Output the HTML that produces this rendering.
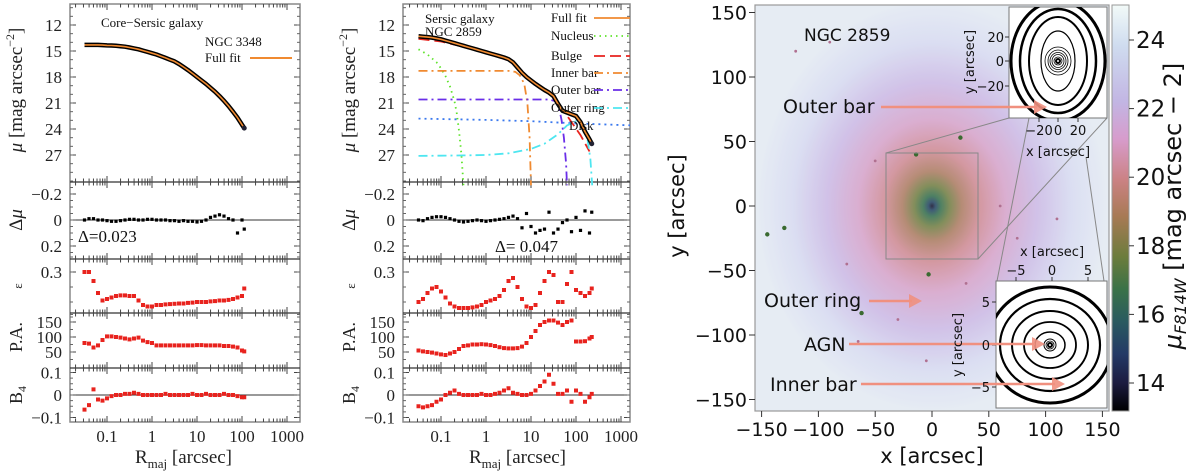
<!DOCTYPE html>
<html><head><meta charset="utf-8">
<style>
html,body{margin:0;padding:0;background:#fff;}
svg{display:block;}
.ser{font-family:"Liberation Serif",serif;}
.san{font-family:"DejaVu Sans","Liberation Sans",sans-serif;}
</style></head>
<body>
<svg id="fig" width="1200" height="472" viewBox="0 0 1200 472" xmlns="http://www.w3.org/2000/svg">
<defs>
  <radialGradient id="gal" cx="0.5" cy="0.5" r="0.5">
    <stop offset="0" stop-color="#0c0c28"/>
    <stop offset="0.02" stop-color="#1d3f5e"/>
    <stop offset="0.05" stop-color="#2f6a48"/>
    <stop offset="0.1" stop-color="#6c7a3e"/>
    <stop offset="0.17" stop-color="#a9785e"/>
    <stop offset="0.27" stop-color="#cc8690"/>
    <stop offset="0.42" stop-color="#d4a0c8"/>
    <stop offset="0.6" stop-color="#c9b7e4"/>
    <stop offset="0.8" stop-color="#d5d9f0"/>
    <stop offset="1" stop-color="#e2e9f2"/>
  </radialGradient>
  <linearGradient id="cbar" x1="0" y1="0" x2="0" y2="1">
    <stop offset="0" stop-color="#f2faf8"/>
    <stop offset="0.1" stop-color="#cfdcef"/>
    <stop offset="0.24" stop-color="#c2b5e3"/>
    <stop offset="0.33" stop-color="#d79ccc"/>
    <stop offset="0.43" stop-color="#cb8284"/>
    <stop offset="0.52" stop-color="#a87a55"/>
    <stop offset="0.62" stop-color="#6c7c3c"/>
    <stop offset="0.7" stop-color="#3a7248"/>
    <stop offset="0.78" stop-color="#2a5a60"/>
    <stop offset="0.86" stop-color="#243a66"/>
    <stop offset="0.93" stop-color="#1c1c40"/>
    <stop offset="1" stop-color="#000"/>
  </linearGradient>
  <filter id="noise" x="0" y="0" width="1" height="1">
    <feTurbulence type="fractalNoise" baseFrequency="0.9" numOctaves="1" result="n"/>
    <feColorMatrix type="matrix" values="0 0 0 0 1  0 0 0 0 1  0 0 0 0 1  0 0 0 0.5 -0.15" in="n" result="w"/>
    <feComposite in="w" in2="SourceGraphic" operator="atop"/>
  </filter>
  <clipPath id="c1"><rect x="70" y="4" width="230" height="418"/></clipPath>
  <clipPath id="c2"><rect x="403" y="4" width="227" height="418"/></clipPath>
  <clipPath id="cimg"><rect x="755" y="5" width="354" height="406"/></clipPath>
</defs>
<g id="root"></g>
</svg>
<script>
// ---------------- data: NGC 3348 (left panel) ----------------
const L_logR = [-1.5,-1.4,-1.3,-1.2,-1.1,-1.0,-0.9,-0.8,-0.7,-0.6,-0.5,-0.4,-0.3,-0.2,-0.1,0,0.1,0.2,0.3,0.4,0.5,0.6,0.7,0.8,0.9,1.0,1.1,1.2,1.3,1.4,1.5,1.6,1.7,1.8,1.9,2.0,2.05];
const L_mu = [14.3,14.3,14.3,14.3,14.32,14.35,14.37,14.4,14.45,14.5,14.6,14.7,14.8,14.95,15.1,15.25,15.4,15.6,15.8,16.0,16.2,16.5,16.85,17.2,17.6,18.0,18.4,18.8,19.25,19.7,20.2,20.75,21.35,22.0,22.7,23.5,23.9];
const L_dmu = [0,-0.01,-0.01,0,0,0.005,0.01,0.01,0.005,0,-0.005,-0.005,0,0,-0.005,-0.005,0,0,0,0.005,0.005,0.01,0.005,0.01,0.01,0.015,0.01,0,-0.02,-0.03,-0.04,-0.03,-0.01,0.0,0.1,0.0,0.07];
const L_eps = [0.30,0.30,0.27,0.23,0.205,0.21,0.215,0.22,0.222,0.222,0.22,0.22,0.205,0.19,0.185,0.185,0.19,0.19,0.192,0.193,0.194,0.195,0.195,0.197,0.198,0.2,0.2,0.2,0.202,0.203,0.205,0.205,0.207,0.21,0.215,0.22,0.245];
const L_pa = [80,78,65,72,90,102,102,100,98,95,92,95,98,88,83,80,72,72,72,72,72,72,72,72,72,73,73,72,72,72,72,70,70,68,65,55,52];
const L_b4 = [-0.065,-0.045,0.025,-0.02,-0.025,-0.015,-0.005,0,0,0.005,0.005,0.01,0.005,0,0,0,0,0,0.005,0,0,0,0,0,0.005,0,0,0.005,0,0,0,0.005,0,0,-0.005,-0.01,-0.01];

// ---------------- data: NGC 2859 (middle panel) ----------------
const M_logR = [-1.5,-1.4,-1.3,-1.2,-1.1,-1.0,-0.9,-0.8,-0.7,-0.6,-0.5,-0.4,-0.3,-0.2,-0.1,0,0.1,0.2,0.3,0.4,0.5,0.6,0.7,0.8,0.9,1.0,1.1,1.2,1.3,1.4,1.5,1.6,1.7,1.8,1.9,2.0,2.1,2.2,2.3,2.35];
const M_mu = [13.3,13.35,13.4,13.45,13.55,13.65,13.8,13.95,14.1,14.25,14.4,14.55,14.7,14.85,15.0,15.15,15.3,15.45,15.6,15.75,15.95,16.3,16.9,17.5,18.0,18.4,18.8,19.15,19.5,19.8,20.2,21.1,21.9,22.1,22.3,22.5,23.2,24.3,25.2,25.7];
const M_dmu = [0,0.005,-0.01,-0.02,-0.025,-0.025,-0.02,-0.01,0,0.01,0.015,0.01,0.005,0,0.005,0.01,0.005,0,-0.005,-0.01,-0.02,-0.03,-0.01,0.06,-0.05,0.05,0.1,0.08,0.07,-0.06,0.1,0.07,0.02,0,0.09,-0.02,0.08,-0.07,0.1,-0.06];
const M_eps = [0.2,0.21,0.23,0.245,0.25,0.235,0.215,0.195,0.185,0.18,0.18,0.18,0.182,0.185,0.19,0.2,0.205,0.21,0.22,0.24,0.27,0.28,0.25,0.21,0.185,0.18,0.19,0.23,0.27,0.3,0.29,0.2,0.2,0.26,0.3,0.24,0.23,0.22,0.23,0.245];
const M_pa = [55,52,50,48,45,42,40,45,50,60,70,72,75,75,76,75,73,70,66,63,62,62,63,68,80,100,120,140,150,155,155,148,140,150,155,85,85,86,95,100];
const M_b4 = [-0.05,-0.055,-0.05,-0.045,-0.03,-0.02,0,0.01,0.02,0.005,0,0,0,0,0.005,0,0,0.005,0.01,0.02,0.03,0.01,0.005,0,0,0.005,0.02,0.04,0.06,0.09,0.05,0.005,0.005,0.02,-0.03,0.02,0.005,-0.03,-0.01,0.005];

// model components (middle panel)
const nucR = [-1.5,-1.3,-1.1,-1.0,-0.9,-0.8,-0.7,-0.65,-0.6,-0.55,-0.5];
const nucMu = [14.8,15.4,16.3,17.0,17.9,19.1,20.8,22.2,24.2,26.8,30.5];
const bulR = [-1.5,-1.0,-0.5,0,0.5,0.7,1.0,1.3,1.5,1.7,1.9,2.1,2.3];
const bulMu = [13.6,13.9,14.5,15.2,16.1,16.9,18.6,19.5,20.3,21.7,23.2,24.7,26.6];
const ibarR = [-1.5,0.5,0.65,0.75,0.85,0.92,0.97,1.0];
const ibarMu = [17.3,17.3,17.4,17.8,18.8,21,25,30.5];
const obarR = [-1.5,1.4,1.55,1.62,1.68,1.73,1.78,1.8];
const obarMu = [20.6,20.6,20.8,21.5,23,25,28,30.5];
const diskR = [-1.5,0,1,2,3.3];
const diskMu = [22.8,22.95,23.1,23.35,23.6];
const ringR = [-1.5,-0.5,0,0.5,1.0,1.3,1.6,1.8,2.0,2.15,2.25,2.32,2.36];
const ringMu = [27.1,27.05,27.0,26.8,26.3,25.7,24.6,23.6,23.1,23.5,25,27.5,30.5];

// ticks
const muTicks = [12,15,18,21,24,27];
const dmuTicks = [-0.2,0,0.2];
const epsTicks = [0.3];
const paTicks = [50,100,150];
const b4Ticks = [-0.1,0,0.1];
const rTickVals = [0.1,1,10,100,1000];
const rTickLabels = ["0.1","1","10","100","1000"];
const imgXTicks = [-150,-100,-50,0,50,100,150];
const imgYTicks = [-150,-100,-50,0,50,100,150];
const cbTicks = [14,16,18,20,22,24];

// ---------------- helpers ----------------
const NS = "http://www.w3.org/2000/svg";
const root = document.getElementById('root');
function mk(tag, attrs, parent, text){
  const e = document.createElementNS(NS, tag);
  for (const k in attrs) e.setAttribute(k, attrs[k]);
  if (text !== undefined) e.textContent = text;
  (parent || root).appendChild(e);
  return e;
}
const fmt = v => (v<0 ? "\u2212"+String(-v) : String(v));

const yMu = v => 25 + (v-12)*8.667;
const yDmu = v => 220 + v*130;
const yEps = v => 272 - (v-0.3)*300;
const yPa = v => 352 - (v-50)*0.3;
const yB4 = v => 395 - v*225;
const bounds = [4,182,259,313,368,422];

function profilePanel(id, left, right, ox, clip, d){
  const g = mk('g', {}, root);
  
  
  const xs = lr => ox + 45*lr;
  const fr = mk('rect', {x:left,y:4,width:right-left,height:418,fill:'none',stroke:'#888','stroke-width':1.5}, g);
  
  
  for (let i=1;i<bounds.length-1;i++){
    const l = mk('line',{x1:left,x2:right,y1:bounds[i],y2:bounds[i],stroke:'#333','stroke-width':1.3},g);
    
    
  }
  [yDmu(0), yB4(0)].forEach(y=>{
    const l = mk('line',{x1:left,x2:right,y1:y,y2:y,stroke:'#333','stroke-width':1},g);
    
    
  });
  for (let dec=-2; dec<=3; dec++){
    for (let m=1;m<=9;m++){
      const lr = dec + Math.log10(m);
      const x = xs(lr);
      if (x<left+1 || x>right-1) continue;
      const len = m===1 ? 6 : 3.5;
      bounds.forEach((b,i)=>{
        const up = i>0, dn = i<bounds.length-1;
        const y1 = up ? b-len : b, y2 = dn ? b+len : b;
        mk('line',{x1:x,x2:x,y1:y1,y2:y2,stroke:'#444','stroke-width':1},g);
      });
    }
  }
  const ytick = (arr, f, minorStep, lo, hi) => {
    arr.forEach(v=>{
      const y=f(v);
      mk('line',{x1:left,x2:left+6,y1:y,y2:y,stroke:'#444'},g);
      mk('line',{x1:right-6,x2:right,y1:y,y2:y,stroke:'#444'},g);
      const t = mk('text',{x:left-8,y:y+6,'text-anchor':'end','font-size':17,class:'ser',fill:'#222'},g,fmt(v));
      
      
    });
    for (let v=lo; v<=hi+1e-9; v+=minorStep){
      const y=f(v);
      mk('line',{x1:left,x2:left+3,y1:y,y2:y,stroke:'#666'},g);
      mk('line',{x1:right-3,x2:right,y1:y,y2:y,stroke:'#666'},g);
    }
  };
  ytick(muTicks, yMu, 1, 10, 30);
  ytick(dmuTicks, yDmu, 0.05, -0.25, 0.25);
  ytick(epsTicks, yEps, 0.05, 0.15, 0.35);
  ytick(paTicks, yPa, 25, 25, 175);
  ytick(b4Ticks, yB4, 0.025, -0.1, 0.1);
  rTickVals.forEach((v,i)=>{
    const t = mk('text',{x:xs(Math.log10(v)),y:442,'text-anchor':'middle','font-size':17,class:'ser',fill:'#222'},g,rTickLabels[i]);
    
    
  });
  const xl = mk('text',{x:xs(0.7),y:463,'text-anchor':'middle','font-size':19,class:'ser',fill:'#222'},g);
  
  
  xl.innerHTML = 'R<tspan font-size="13" dy="5">maj</tspan><tspan dy="-5"> [arcsec]</tspan>';
  const lx = left-54;
  const ylabels = [
    [yMu(19.5), '<tspan font-style="italic">μ</tspan> [mag arcsec<tspan font-size="12" dy="-8">−2</tspan><tspan dy="8">]</tspan>', 'mu-axis-title', 19],
    [yDmu(0), 'Δ<tspan font-style="italic">μ</tspan>', 'delta-mu-axis-title', 19],
    [286, 'ε', 'ellipticity-axis-title', 13],
    [yPa(100), 'P.A.', 'pa-axis-title', 18],
    [yB4(0), 'B<tspan font-size="12" dy="4">4</tspan>', 'b4-axis-title', 18]
  ];
  ylabels.forEach(([y,html,name,fs])=>{
    const t = mk('text',{x:lx,y:y,'text-anchor':'middle','font-size':fs,class:'ser',fill:'#222',transform:`rotate(-90 ${lx} ${y}) translate(0 6)`},g);
    t.innerHTML = html;
    
    
  });
  const dg = mk('g',{'clip-path':`url(#${clip})`},g);
  const pts = (R,V,f)=>R.map((r,i)=>`${xs(r).toFixed(1)},${f(V[i]).toFixed(1)}`).join(' ');
  (d.comps||[]).forEach(c=>{
    const p = mk('polyline',{points:pts(c.R,c.V,yMu),fill:'none',stroke:c.col,'stroke-width':1.8,'stroke-dasharray':c.dash},dg);
    
    
  });
  const prof = mk('polyline',{points:pts(d.R,d.mu,yMu),fill:'none',stroke:'#000','stroke-width':4.5,'stroke-linejoin':'round'},dg);
  
  
  const fit = mk('polyline',{points:pts(d.R,d.mu,yMu),fill:'none',stroke:'#f08a30','stroke-width':1.6},dg);
  
  
  mk('circle',{cx:xs(d.R[d.R.length-1]),cy:yMu(d.mu[d.mu.length-1]),r:2.5,fill:'#223'},dg);
  const sq = (R,V,f,col,name,s)=>{
    const gg = mk('g',{},dg);
    
    
    R.forEach((r,i)=>{
      const m = mk('rect',{x:xs(r)-s/2,y:f(V[i])-s/2,width:s,height:s,fill:col},gg);
      
      
    });
  };
  sq(d.R, d.dmu, yDmu, '#000', 'residual-points', 3.2);
  sq(d.R, d.eps, yEps, '#e8231e', 'ellipticity-points', 4);
  sq(d.R, d.pa, yPa, '#e8231e', 'pa-points', 4);
  sq(d.R, d.b4, yB4, '#e8231e', 'b4-points', 4);
  return g;
}

profilePanel('core-sersic-panel', 70, 300, 152, 'c1', {R:L_logR,mu:L_mu,dmu:L_dmu,eps:L_eps,pa:L_pa,b4:L_b4});
profilePanel('sersic-panel', 403, 630, 486, 'c2', {R:M_logR,mu:M_mu,dmu:M_dmu,eps:M_eps,pa:M_pa,b4:M_b4,
  comps:[
    {R:nucR,V:nucMu,col:'#5ee32a',dash:'1.5 4',name:'nucleus-line'},
    {R:bulR,V:bulMu,col:'#e8231e',dash:'11 5',name:'bulge-line'},
    {R:ibarR,V:ibarMu,col:'#f08a30',dash:'9 4 2 4',name:'inner-bar-line'},
    {R:obarR,V:obarMu,col:'#6a2ee8',dash:'9 4 2 4',name:'outer-bar-line'},
    {R:diskR,V:diskMu,col:'#3a78ee',dash:'2 4',name:'disk-line'},
    {R:ringR,V:ringMu,col:'#4ee6f0',dash:'9 4 2 4',name:'outer-ring-line'}
  ]});

function txt(x,y,s,fs,cls,name,anchor){
  const t = mk('text',{x:x,y:y,'font-size':fs,class:cls,fill:'#111','text-anchor':anchor||'start'},root,s);
  
  
  return t;
}
txt(101,27,'Core−Sersic galaxy',13,'ser','galaxy-type-label');
txt(205,46,'NGC 3348',13,'ser','galaxy-name-label');
txt(205,62,'Full fit',13,'ser','legend-entry-full-fit');
mk('line',{x1:250,x2:292,y1:58,y2:58,stroke:'#f08a30','stroke-width':2});
txt(78,242,'Δ=0.023',17,'ser','residual-rms-label');

txt(425,23,'Sersic galaxy',13,'ser','galaxy-type-label-2');
txt(425,36,'NGC 2859',13,'ser','galaxy-name-label-2');
const legend = [
  ['Full fit','#f08a30','none',18],
  ['Nucleus','#5ee32a','1.5 4',36],
  ['Bulge','#e8231e','11 5',56],
  ['Inner bar','#f08a30','9 4 2 4',73],
  ['Outer bar','#6a2ee8','9 4 2 4',90],
  ['Outer ring','#4ee6f0','9 4 2 4',108]
];
legend.forEach(([lab,col,dash,y])=>{
  txt(551,y+4,lab,13,'ser','legend-entry-'+lab.toLowerCase().replace(' ','-'));
  mk('line',{x1:594,x2:630,y1:y,y2:y,stroke:col,'stroke-width':1.8,'stroke-dasharray':dash});
});
txt(569,130,'Disk',13,'ser','disk-label');
txt(495,252,'Δ=  0.047',17,'ser','residual-rms-label-2');

// ---------------- right image panel ----------------
const IX0=755, IX1=1109;
const ix = v => 932 + v*1.136;
const iy = v => 206 - v*1.29;
const img = mk('g',{},root);


const bg = mk('rect',{x:IX0,y:5,width:IX1-IX0,height:406,fill:'#e2e9f2'},img);


const gal = mk('ellipse',{cx:932,cy:206,rx:175,ry:205,fill:'url(#gal)','clip-path':'url(#cimg)'},img);


mk('rect',{x:IX0,y:5,width:IX1-IX0,height:406,fill:'#fff',filter:'url(#noise)',opacity:0.15},img);
const starX = [25,-14,-145,-130,-62,-3,-65,-30,-5,-90,75,-120,60,30,-75,-50,110];
const starY = [53,40,-22,-17,-83,-53,-105,-88,-120,127,-25,120,0,-60,-45,35,-10];
starX.forEach((sx,i)=>{
  const s = mk('circle',{cx:ix(sx),cy:iy(starY[i]),r:i<6?2.2:1.4,fill:i<6?'#3a6a30':'#b07090'},img);
  
  
});
const ifr = mk('rect',{x:IX0,y:5,width:IX1-IX0,height:406,fill:'none',stroke:'#999','stroke-width':1.2},img);


mk('rect',{x:886,y:153,width:92,height:106,fill:'none',stroke:'#888','stroke-width':1},img);
[[886,153,1009,118],[978,259,1107,118],[1029,118,997,281],[1086,157,1104,281]].forEach(c=>{
  mk('line',{x1:c[0],y1:c[1],x2:c[2],y2:c[3],stroke:'#888','stroke-width':1},img);
});
imgXTicks.forEach(v=>{
  mk('line',{x1:ix(v),x2:ix(v),y1:411,y2:417,stroke:'#333'},img);
  const t=mk('text',{x:ix(v),y:436,'text-anchor':'middle','font-size':19,class:'san',fill:'#111'},img,fmt(v));
  
  
});
imgYTicks.forEach(v=>{
  mk('line',{x1:749,x2:755,y1:iy(v),y2:iy(v),stroke:'#333'},img);
  const t=mk('text',{x:747,y:iy(v)+7,'text-anchor':'end','font-size':19,class:'san',fill:'#111'},img,fmt(v));
  
  
});
txt(932,463,'x [arcsec]',21,'san','image-x-axis-title','middle');
const ylt = txt(684,206,'y [arcsec]',21,'san','image-y-axis-title','middle');
ylt.setAttribute('transform','rotate(-90 684 206)');
txt(804,41,'NGC 2859',17,'san','image-galaxy-name');

function inset(x0,y0,w,h,cx,cy,rings,name){
  const g = mk('g',{},img);
  
  
  mk('rect',{x:x0,y:y0,width:w,height:h,fill:'#fff',stroke:'#777'},g);
  const cp = 'cp'+name;
  const c = mk('clipPath',{id:cp},g);
  mk('rect',{x:x0,y:y0,width:w,height:h},c);
  const gg = mk('g',{'clip-path':`url(#${cp})`},g);
  rings.forEach(r=>{
    mk('ellipse',{cx:cx,cy:cy,rx:r[0],ry:r[1],fill:'none',stroke:'#000','stroke-width':r[2]},gg);
  });
  return g;
}
inset(1009,7,98,111,1058,61,[[2,2,2],[4,4,0.8],[6,6.5,0.8],[8,8.5,0.8],[10,11,0.8],[13,14,0.8],[17,30,1.2],[29,44,2],[38,52,2.5],[47,60,3]],'top-inset');
inset(996,281,111,127,1050,345,[[2,2,2],[4,4,0.8],[6,6,1],[15,13,1.5],[26,23,1.8],[38,34,2],[50,46,2.2],[62,58,3]],'bottom-inset');
[[-20,1039],[0,1058],[20,1078]].forEach(([v,x])=>{
  mk('line',{x1:x,x2:x,y1:118,y2:122,stroke:'#333'},img);
  txt(x,135,fmt(v),13,'san','inset-x-tick-label','middle');
});
[[20,37],[0,61],[-20,86]].forEach(([v,y])=>{
  mk('line',{x1:1005,x2:1009,y1:y,y2:y,stroke:'#333'},img);
  txt(1004,y+5,fmt(v),13,'san','inset-y-tick-label','end');
});
txt(1058,156,'x [arcsec]',13,'san','inset-x-axis-title','middle');
const t1 = txt(974,62,'y [arcsec]',13,'san','inset-y-axis-title','middle'); t1.setAttribute('transform','rotate(-90 974 62)');
[[-5,1016],[0,1052],[5,1088]].forEach(([v,x])=>{
  mk('line',{x1:x,x2:x,y1:277,y2:281,stroke:'#333'},img);
  txt(x,275,fmt(v),13,'san','inset2-x-tick-label','middle');
});
txt(1052,256,'x [arcsec]',13,'san','inset2-x-axis-title','middle');
[[5,302],[0,345],[-5,387]].forEach(([v,y])=>{
  mk('line',{x1:992,x2:996,y1:y,y2:y,stroke:'#333'},img);
  txt(990,y+5,fmt(v),13,'san','inset2-y-tick-label','end');
});
const t2 = txt(962,345,'y [arcsec]',13,'san','inset2-y-axis-title','middle'); t2.setAttribute('transform','rotate(-90 962 345)');

const arrows = [
  ['Outer bar',783,113,881,1047,107],
  ['Outer ring',764,307,869,922,301],
  ['AGN',804,351,849,1045,344],
  ['Inner bar',770,391,861,1065,384]
];
arrows.forEach(([lab,tx,ty,x1,x2,y])=>{
  txt(tx,ty,lab,19,'san','label-'+lab.toLowerCase().replace(' ','-'));
  const a = mk('g',{},img);
  
  
  mk('line',{x1:x1,x2:x2-10,y1:y,y2:y,stroke:'#f0907f','stroke-width':2.5},a);
  mk('polygon',{points:`${x2-13},${y-7} ${x2},${y} ${x2-13},${y+7}`,fill:'#f0907f',opacity:0.9},a);
});

const cy = v => 383 - (v-14)*34.3;
const cb = mk('rect',{x:1112,y:5,width:17,height:406,fill:'url(#cbar)',stroke:'#999'},root);


cbTicks.forEach(v=>{
  mk('line',{x1:1129,x2:1134,y1:cy(v),y2:cy(v),stroke:'#333'});
  txt(1136,cy(v)+8,String(v),23,'san','colorbar-tick-label');
});
const cbl = mk('text',{x:1181,y:206,'text-anchor':'middle','font-size':24,class:'san',fill:'#111',transform:'rotate(-90 1181 206)'});
cbl.innerHTML = '<tspan font-style="italic">μ</tspan><tspan font-size="16" dy="5" font-style="italic">F814W</tspan><tspan dy="-5"> [mag arcsec − 2]</tspan>';


</script>
</body></html>
